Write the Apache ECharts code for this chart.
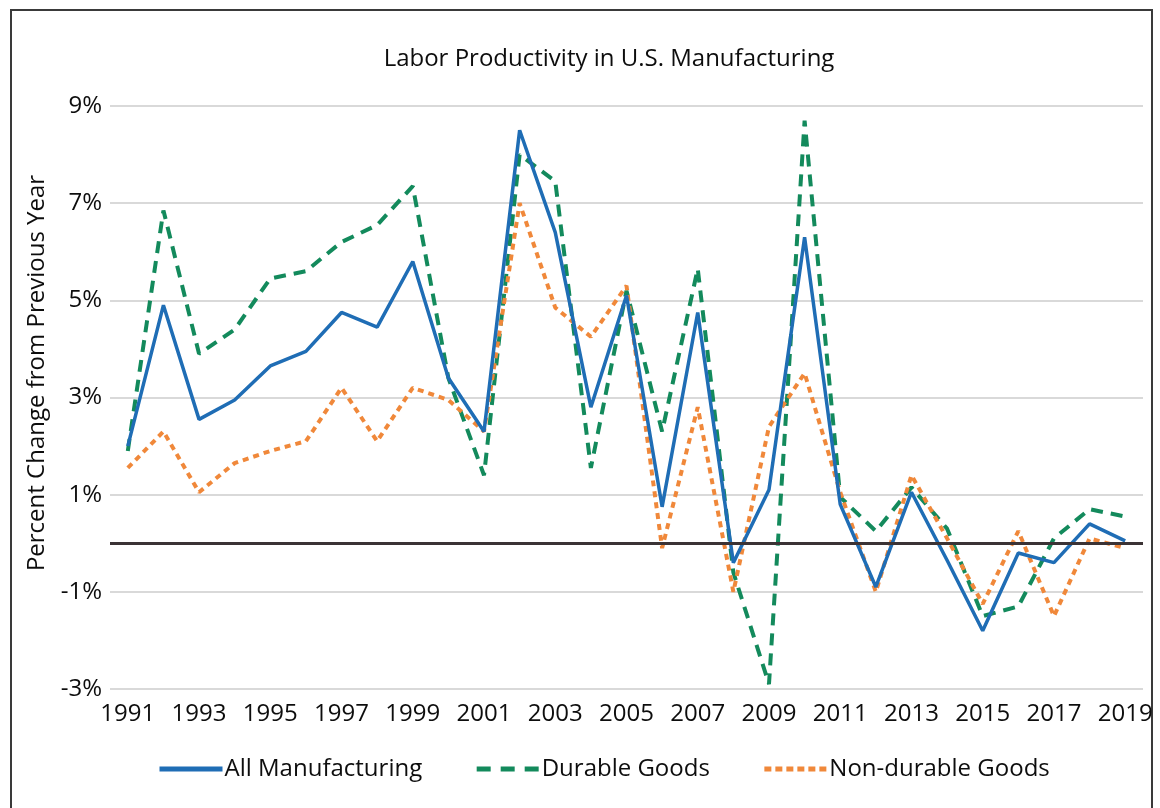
<!DOCTYPE html>
<html>
<head>
<meta charset="utf-8">
<title>Labor Productivity in U.S. Manufacturing</title>
<script src="https://cdn.jsdelivr.net/npm/echarts@6/dist/echarts.min.js"></script>
<style>
  html, body { margin: 0; padding: 0; background: #ffffff; }
  #chart { width: 1160px; height: 808px; }
</style>
</head>
<body>
<div id="chart"></div>
<script>
// Annual labor productivity change, percent from previous year
const years = ['1991','1992','1993','1994','1995','1996','1997','1998','1999','2000',
               '2001','2002','2003','2004','2005','2006','2007','2008','2009','2010',
               '2011','2012','2013','2014','2015','2016','2017','2018','2019'];

const allManufacturing = [2.0, 4.9, 2.55, 2.95, 3.65, 3.95, 4.75, 4.45, 5.8, 3.4,
                          2.3, 8.5, 6.4, 2.8, 5.1, 0.75, 4.75, -0.4, 1.1, 6.3,
                          0.8, -0.9, 1.05, -0.35, -1.8, -0.2, -0.4, 0.4, 0.05];

const durableGoods = [1.9, 6.85, 3.9, 4.4, 5.45, 5.6, 6.2, 6.55, 7.35, 3.4,
                      1.4, 8.0, 7.45, 1.55, 5.2, 2.3, 5.65, -0.6, -2.9, 8.7,
                      0.95, 0.25, 1.15, 0.3, -1.5, -1.3, 0.1, 0.7, 0.55];

const nonDurableGoods = [1.55, 2.3, 1.05, 1.65, 1.9, 2.1, 3.2, 2.1, 3.2, 2.95,
                         2.3, 7.0, 4.85, 4.25, 5.3, -0.1, 2.8, -1.0, 2.4, 3.5,
                         1.05, -1.0, 1.4, 0.1, -1.25, 0.25, -1.5, 0.1, -0.1];

const seriesNames = ['All Manufacturing', 'Durable Goods', 'Non-durable Goods'];
const yAxisTitle = 'Percent Change from Previous Year';
const chartTitle = 'Labor Productivity in U.S. Manufacturing';

const FONT = '"Open Sans", sans-serif';
const TEXT = '#0d0d0d';
const WEIGHT = 500;

const chart = echarts.init(document.getElementById('chart'), null, { renderer: 'canvas' });

chart.setOption({
  animation: false,
  backgroundColor: '#ffffff',
  textStyle: { fontFamily: FONT, color: TEXT },
  title: {
    text: chartTitle,
    left: 604,
    textAlign: 'center',
    top: 42,
    textStyle: { fontFamily: FONT, fontSize: 24, fontWeight: WEIGHT, color: TEXT }
  },
  grid: { left: 110, right: 17, top: 106, bottom: 119, containLabel: false },
  legend: {
    data: [
      { name: seriesNames[0], lineStyle: { width: 5, type: 'solid' } },
      { name: seriesNames[1], lineStyle: { width: 5, type: [14, 10] } },
      { name: seriesNames[2], lineStyle: { width: 5, type: [7, 4] } }
    ],
    left: 152,
    top: 752,
    itemWidth: 63,
    itemHeight: 14,
    itemGap: 52,
    itemStyle: { opacity: 0 },
    textStyle: { fontFamily: FONT, fontSize: 24, fontWeight: WEIGHT, color: TEXT, padding: [0, 0, 0, -3] }
  },
  xAxis: {
    type: 'category',
    data: years,
    boundaryGap: true,
    axisLine: { show: false },
    axisTick: { show: false },
    axisLabel: { interval: 1, fontSize: 24, fontWeight: WEIGHT, margin: 13, color: TEXT, fontFamily: FONT },
    splitLine: { show: false }
  },
  yAxis: {
    type: 'value',
    min: -3,
    max: 9,
    interval: 2,
    axisLine: { show: false },
    axisTick: { show: false },
    axisLabel: { formatter: '{value}%', fontSize: 24, fontWeight: WEIGHT, margin: 8, color: TEXT, fontFamily: FONT },
    splitLine: { lineStyle: { color: '#d9d9d9', width: 2 } }
  },
  graphic: [
    {
      type: 'rect',
      shape: { x: 11, y: 10, width: 1141, height: 830 },
      style: { fill: 'none', stroke: '#3a3a3a', lineWidth: 2 },
      silent: true
    },
    {
      type: 'text',
      x: 37,
      y: 373,
      rotation: Math.PI / 2,
      style: {
        text: yAxisTitle,
        fill: TEXT,
        font: WEIGHT + ' 24px ' + FONT,
        align: 'center',
        verticalAlign: 'middle'
      },
      silent: true
    }
  ],
  series: [
    {
      name: seriesNames[0],
      type: 'line',
      data: allManufacturing,
      symbol: 'none',
      z: 4,
      lineStyle: { color: '#1f6db5', width: 3.5, type: 'solid' },
      itemStyle: { color: '#1f6db5' },
      markLine: {
        silent: true,
        symbol: 'none',
        label: { show: false },
        lineStyle: { color: '#3b3335', width: 3, type: 'solid' },
        data: [{ yAxis: 0 }]
      }
    },
    {
      name: seriesNames[1],
      type: 'line',
      data: durableGoods,
      symbol: 'none',
      z: 2,
      lineStyle: { color: '#138a5c', width: 4, type: [12, 8] },
      itemStyle: { color: '#138a5c' }
    },
    {
      name: seriesNames[2],
      type: 'line',
      data: nonDurableGoods,
      symbol: 'none',
      z: 3,
      lineStyle: { color: '#f0883a', width: 4, type: [6, 5] },
      itemStyle: { color: '#f0883a' }
    }
  ]
});
</script>
</body>
</html>
